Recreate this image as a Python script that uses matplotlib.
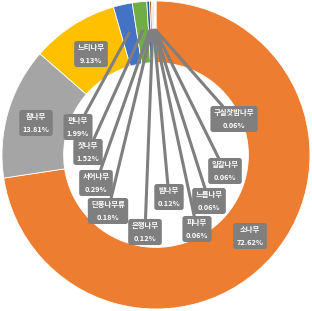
import numpy as np
import matplotlib
matplotlib.use("Agg")
import matplotlib.pyplot as plt

plt.rcParams['font.family'] = ['Noto Sans CJK KR', 'DejaVu Sans']

# data (clockwise from 12 o'clock)
names = ["소나무", "참나무", "느티나무", "편나무", "잣나무", "서어나무", "단풍나무류",
         "은행나무", "밤나무", "피나무", "느릅나무", "일갈나무", "구실잣밤나무"]
values = [72.62, 13.81, 9.13, 1.99, 1.52, 0.29, 0.18, 0.12, 0.12, 0.06, 0.06, 0.06, 0.06]
colors = ["#ED7D31", "#A5A5A5", "#FFC000", "#4472C4", "#70AD47", "#255E91", "#9E480E",
          "#636363", "#997300", "#264478", "#43682B", "#698ED0", "#F1975A"]

# label box centres in pixel coords (layout)
label_px = [(250, 236), (36, 123), (91, 54), (78, 127), (88, 152), (96, 183), (108, 211),
            (145, 232), (169, 197), (197, 229), (209, 201), (225, 171), (234, 119)]
leader = [False, False, False] + [True] * 10

W, H = 312, 311
cx, cy, R = 156, 155, 154

fig = plt.figure(figsize=(W / 100, H / 100), dpi=100)
ax = fig.add_axes([0, 0, 1, 1])

wedges, _ = ax.pie(values, colors=colors, startangle=90, counterclock=False, radius=1,
                   wedgeprops=dict(width=0.4, edgecolor="white", linewidth=0.6))
ax.set_xlim(-cx / R, (W - cx) / R)
ax.set_ylim(-(H - cy) / R, cy / R)
ax.axis("off")

total = sum(values)
cum = 0
for i, (n, v) in enumerate(zip(names, values)):
    mid = 90 - (cum + v / 2) / total * 360
    cum += v
    px, py = label_px[i]
    tx, ty = (px - cx) / R, (cy - py) / R
    txt = f"{n}\n{v:.2f}%"
    box = dict(boxstyle="round,pad=0.45,rounding_size=0.35", fc="#7F7F7F", ec="none")
    kw = dict(ha="center", va="center", fontsize=5.3, color="white",
              fontweight="bold", linespacing=1.9, bbox=box)
    if leader[i]:
        ax_, ay_ = 0.81 * np.cos(np.radians(mid)), 0.81 * np.sin(np.radians(mid))
        ax.annotate(txt, xy=(ax_, ay_), xytext=(tx, ty),
                    arrowprops=dict(arrowstyle="-", color="#7F7F7F", lw=2.2,
                                    shrinkA=0, shrinkB=0), **kw)
    else:
        ax.text(tx, ty, txt, **kw)

fig.savefig("out.png", dpi=100)
